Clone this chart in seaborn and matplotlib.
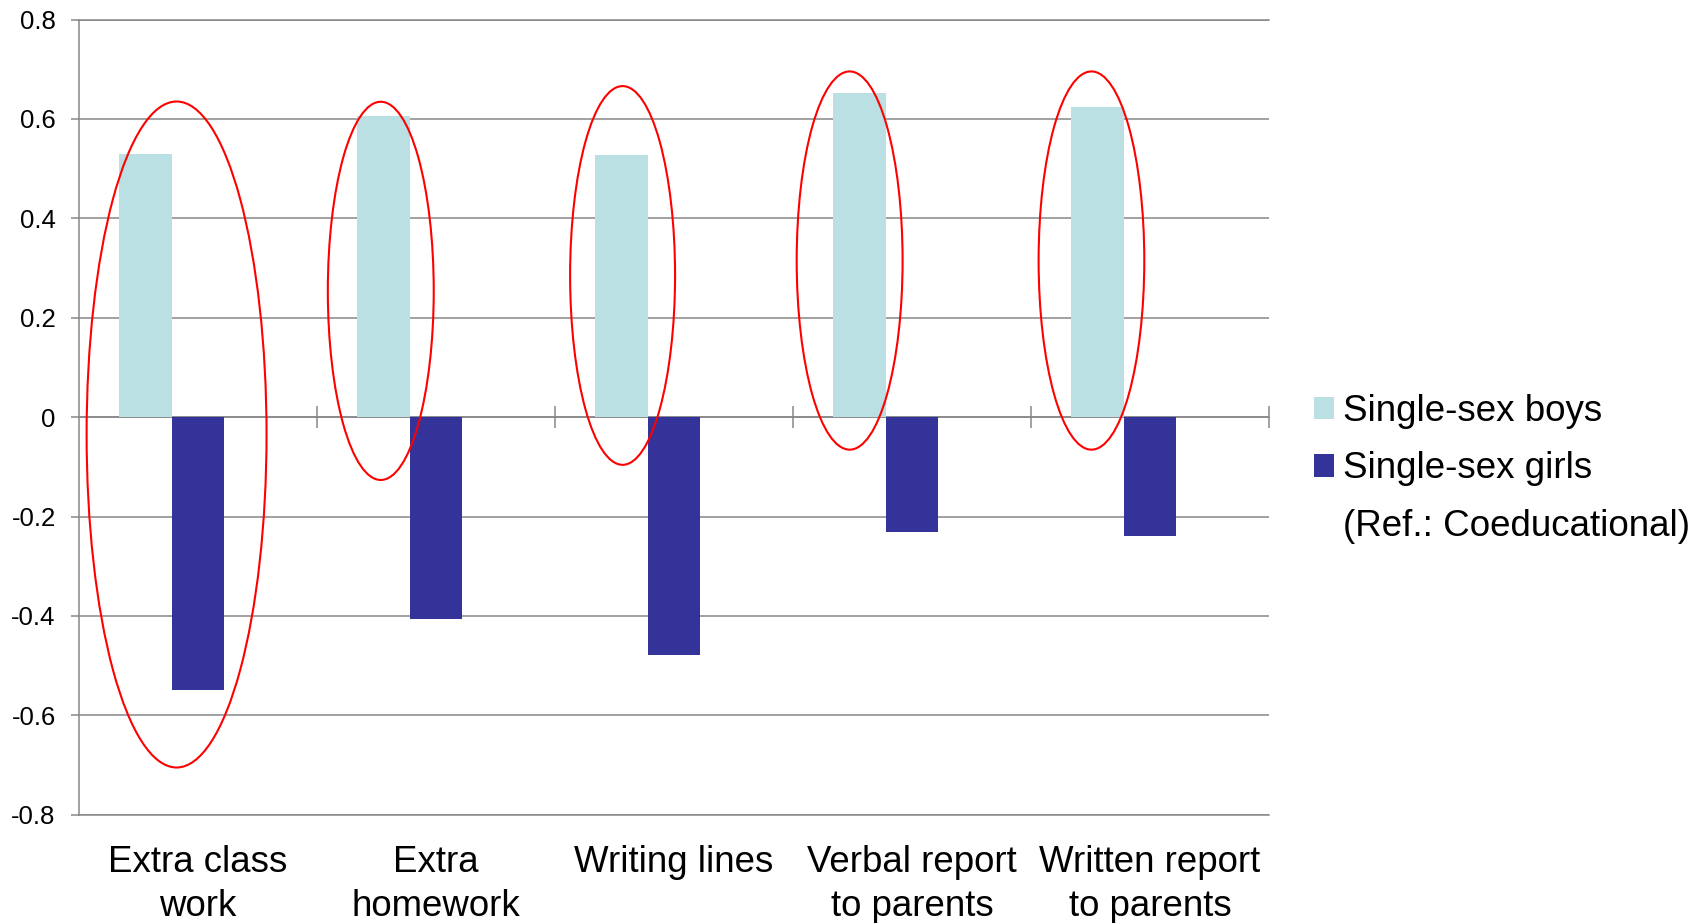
import matplotlib
matplotlib.use("Agg")
import matplotlib.pyplot as plt
from matplotlib.patches import Ellipse
import seaborn as sns
import pandas as pd

# Categories and estimated coefficients (reference group: coeducational schools)
categories = ["Extra class\nwork", "Extra\nhomework", "Writing lines",
              "Verbal report\nto parents", "Written report\nto parents"]
series = ["Single-sex boys", "Single-sex girls", "(Ref.: Coeducational)"]
boys = [0.529, 0.605, 0.527, 0.653, 0.623]
girls = [-0.549, -0.406, -0.479, -0.231, -0.239]
ref = [0.0, 0.0, 0.0, 0.0, 0.0]
y_ticks = [-0.8, -0.6, -0.4, -0.2, 0, 0.2, 0.4, 0.6, 0.8]
y_tick_labels = ["-0.8", "-0.6", "-0.4", "-0.2", "0", "0.2", "0.4", "0.6", "0.8"]

# Highlight ellipses (centre x in category units, centre y, width, height)
ell_x = [-0.090, 0.768, 1.784, 2.738, 3.754]
ell_y = [-0.035, 0.254, 0.285, 0.315, 0.315]
ell_w = [0.756, 0.445, 0.441, 0.445, 0.444]
ell_h = [1.340, 0.761, 0.762, 0.761, 0.761]

colors = {series[0]: "#BBE0E3", series[1]: "#333399", series[2]: "#FFFFFF"}
grid_gray = "#878787"

sns.set_style("white")
plt.rcParams["font.family"] = ["Liberation Sans", "DejaVu Sans"]
plt.rcParams["text.color"] = "black"

df = pd.DataFrame({
    "category": categories * 3,
    "series": [series[0]] * 5 + [series[1]] * 5 + [series[2]] * 5,
    "value": boys + girls + ref,
})

fig = plt.figure(figsize=(17.07, 9.23), dpi=100)
ax = fig.add_axes([79 / 1707, 1 - 814.7 / 923, 1190 / 1707, (814.7 - 19.5) / 923])

sns.barplot(data=df, x="category", y="value", hue="series", order=categories,
            hue_order=series, palette=colors, width=0.664, errorbar=None,
            linewidth=0, saturation=1, ax=ax)

ax.set_xlim(-0.5, 4.5)
ax.set_ylim(-0.8, 0.8)
ax.set_yticks(y_ticks)
ax.set_yticklabels(y_tick_labels)
ax.set_xlabel("")
ax.set_ylabel("")

# Horizontal gridlines behind the bars
ax.set_axisbelow(True)
ax.yaxis.grid(True, color=grid_gray, linewidth=1.1)
ax.xaxis.grid(False)

for side in ["left", "top", "bottom"]:
    ax.spines[side].set_visible(True)
    ax.spines[side].set_color(grid_gray)
    ax.spines[side].set_linewidth(1.1)
ax.spines["right"].set_visible(False)

ax.tick_params(axis="y", length=5.8, width=1.1, color=grid_gray, pad=11,
               labelsize=18.5, labelcolor="black", left=True)
ax.tick_params(axis="x", length=0, pad=22, labelsize=26.4, labelcolor="black")
for lbl in ax.get_xticklabels():
    lbl.set_multialignment("center")
    lbl.set_linespacing(1.32)

# Category axis crossing at zero, with ticks between categories
sec = ax.secondary_xaxis(0.5)
sec.set_xticks([0.5, 1.5, 2.5, 3.5, 4.5])
sec.set_xticklabels([])
sec.tick_params(axis="x", direction="in", length=7.7, width=1.1, color=grid_gray,
                top=True, bottom=True)
for s in sec.spines.values():
    s.set_color(grid_gray)
    s.set_linewidth(1.1)

# Red highlight ellipses
for cx, cy, w, h in zip(ell_x, ell_y, ell_w, ell_h):
    ax.add_patch(Ellipse((cx, cy), w, h, fill=False, edgecolor="#FF0000",
                         linewidth=1.5, clip_on=False, zorder=5))

# Legend to the right of the plot
old = ax.get_legend()
handles = list(old.legend_handles)
labels = [t.get_text() for t in old.get_texts()]
old.remove()
handles[2].set_visible(False)
fig.legend(handles, labels, loc="center left",
           bbox_to_anchor=(1314 / 1707, 1 - 469.0 / 923),
           frameon=False, fontsize=26.5, labelcolor="black",
           handlelength=0.545, handleheight=0.545,
           handletextpad=0.24, labelspacing=0.6, borderpad=0, borderaxespad=0)

fig.savefig("out.png", dpi=100)
